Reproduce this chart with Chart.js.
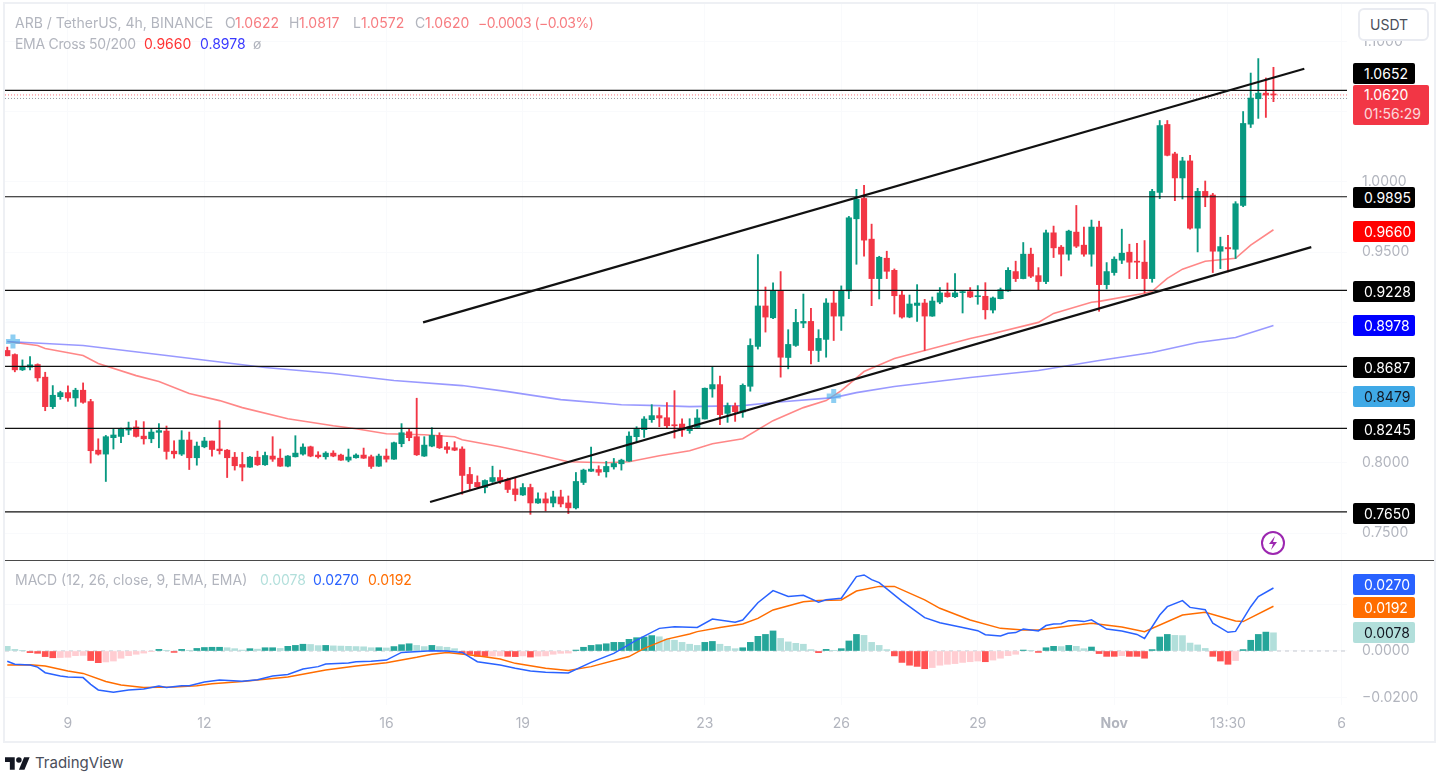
<!DOCTYPE html>
<html>
<head>
<meta charset="utf-8">
<script src="https://cdn.jsdelivr.net/npm/chart.js@4"></script>
<style>
  html, body { margin: 0; padding: 0; background: #fff; }
  body { width: 1442px; height: 777px; position: relative; overflow: hidden; font-family: Inter, sans-serif; font-size: 14px; }
  #frame { position: absolute; left: 3px; top: 2px; width: 1429px; height: 737px; border: 2px solid #eef0f4; }
  canvas { position: absolute; }
  /* the cross markers make chart.js pad the plot by 12px, so this canvas sticks out by that much */
  #priceChart { left: -7px; top: -8px; }
  #macdChart { left: 5px; top: 561px; }
  #sep { position: absolute; left: 5px; top: 560px; width: 1429px; height: 1px; background: #4a4a4a; }
  .txt { position: absolute; white-space: nowrap; line-height: 18px; }
  .tag { position: absolute; height: 21px; line-height: 21px; border-radius: 2px; padding-left: 11px; box-sizing: border-box; color: #fff; }
  #unit { position: absolute; left: 1358px; top: 8px; width: 71px; height: 33px; box-sizing: border-box; border: 2px solid #e9ebf1; border-radius: 6px; background: #fff; color: #4a4e5a; line-height: 29px; padding-left: 10px; }
  #last { position: absolute; left: 1353px; top: 85px; width: 76px; height: 40px; background: #f23645; border-radius: 2px; color: #fff; padding-left: 11px; box-sizing: border-box; line-height: 19px; }
  #last span { opacity: .8; }
</style>
</head>
<body>
<div id="frame"></div>
<canvas id="priceChart" width="1441" height="580"></canvas>
<canvas id="macdChart" width="1429" height="179"></canvas>
<div id="sep"></div>
<div id="unit">USDT</div>
<svg style="position:absolute;left:1260px;top:530px" width="26" height="26" viewBox="0 0 26 26">
  <circle cx="13" cy="13" r="11" fill="none" stroke="#9c27b0" stroke-width="2"/>
  <path d="M15 6l-6 8h4l-2 6 6-8h-4z" fill="#9c27b0"/>
</svg>
<svg style="position:absolute;left:5px;top:757px" width="25" height="13" viewBox="0 4 36 18">
  <path d="M14 22H7V11H0V4h14v18zM28 22h-8l7.5-18h8L28 22z" fill="#131722"/>
  <circle cx="20" cy="8" r="4" fill="#131722"/>
</svg>
<div class="txt" style="left:35px;top:754px;font-size:15px;color:#4a4e5a">TradingView</div>
<script>
const opens = [
  .8800,.8771,.8662,.8681,.8700,.8610,.8400,.8471,.8500,.8462,
  .8517,.8436,.8090,.8062,.8179,.8188,.8233,.8255,.8190,.8171,
  .8217,.8226,.8083,.8062,.8162,.8036,.8114,.8155,.8098,.8090,
  .8040,.7988,.7969,.8040,.7986,.8048,.8033,.7976,.8043,.8062,
  .8114,.8055,.8043,.8069,.8055,.8019,.8036,.8055,.8043,.7976,
  .8048,.8026,.8136,.8221,.8186,.8048,.8119,.8195,.8114,.8107,
  .8098,.7917,.7860,.7824,.7867,.7895,.7881,.7814,.7771,.7824,
  .7714,.7743,.7714,.7757,.7714,.7679,.7860,.7940,.7952,.7936,
  .7971,.7993,.8012,.8186,.8236,.8307,.8336,.8321,.8269,.8276,
  .8229,.8252,.8312,.8526,.8557,.8352,.8405,.8362,.8545,.8829,
  .9117,.9033,.9224,.8750,.8836,.8995,.9007,.8800,.8879,.9138,
  .9045,.9224,.9738,.9883,.9593,.9312,.9457,.9371,.9195,.9038,
  .9121,.9138,.9045,.9145,.9210,.9183,.9212,.9219,.9183,.9186,
  .9088,.9169,.9224,.9362,.9312,.9486,.9333,.9291,.9638,.9536,
  .9486,.9643,.9550,.9486,.9679,.9269,.9355,.9443,.9500,.9436,
  .9429,.9312,.9926,1.0410,1.0200,1.0029,1.0150,.9671,.9933,.9907,
  .9507,.9533,.9521,.9833,1.0412,1.0593,1.0633,1.0622
];
const highs = [
  .8824,.8776,.8733,.8757,.8705,.8645,.8550,.8510,.8548,.8531,
  .8569,.8452,.8171,.8195,.8240,.8248,.8290,.8300,.8293,.8238,
  .8279,.8262,.8157,.8229,.8219,.8148,.8181,.8155,.8300,.8095,
  .8074,.8074,.8045,.8083,.8076,.8186,.8098,.8052,.8193,.8136,
  .8119,.8079,.8079,.8086,.8062,.8098,.8064,.8105,.8055,.8062,
  .8098,.8148,.8279,.8238,.8460,.8186,.8250,.8214,.8145,.8150,
  .8114,.7967,.7907,.7879,.7976,.7948,.7891,.7891,.7852,.7848,
  .7786,.7786,.7798,.7805,.7764,.7931,.7955,.8112,.7979,.8010,
  .8031,.8026,.8221,.8257,.8329,.8414,.8393,.8429,.8514,.8314,
  .8314,.8379,.8533,.8681,.8617,.8426,.8426,.8562,.8883,.9483,
  .9252,.9281,.9362,.8948,.9093,.9202,.9100,.8948,.9169,.9221,
  .9260,.9755,.9948,.9976,.9700,.9471,.9507,.9381,.9224,.9195,
  .9269,.9164,.9181,.9248,.9281,.9348,.9221,.9248,.9262,.9283,
  .9181,.9245,.9390,.9436,.9569,.9529,.9390,.9657,.9686,.9548,
  .9657,.9833,.9679,.9729,.9721,.9426,.9467,.9664,.9557,.9564,
  .9583,.9948,1.0438,1.0438,1.0212,1.0176,1.0190,.9955,1.0007,.9919,
  .9607,.9621,.9860,1.0502,1.0776,1.0879,1.0741,1.0817
];
const lows = [
  .8762,.8648,.8657,.8662,.8581,.8371,.8386,.8452,.8438,.8402,
  .8424,.7998,.8055,.7867,.8098,.8143,.8200,.8183,.8133,.8143,
  .8107,.8026,.8033,.8052,.7952,.7983,.8107,.8048,.8062,.7895,
  .7948,.7871,.7967,.7981,.7981,.8010,.7974,.7971,.8041,.8055,
  .8043,.8033,.8026,.8043,.8017,.8007,.8033,.8031,.7960,.7974,
  .8005,.8024,.8114,.8157,.8052,.8045,.8114,.8102,.8069,.8086,
  .7776,.7805,.7824,.7786,.7860,.7852,.7788,.7729,.7767,.7633,
  .7710,.7657,.7686,.7686,.7638,.7671,.7845,.7938,.7910,.7898,
  .7955,.7948,.8010,.8150,.8181,.8288,.8257,.8248,.8176,.8188,
  .8210,.8252,.8312,.8467,.8271,.8288,.8295,.8324,.8510,.8810,
  .8931,.9026,.8610,.8669,.8829,.8962,.8705,.8721,.8752,.8871,
  .8943,.9169,.9414,.9471,.9119,.9167,.9312,.9060,.9031,.9033,
  .9007,.8800,.9043,.9133,.9179,.9176,.9067,.9176,.9129,.9024,
  .9067,.9167,.9221,.9291,.9310,.9319,.9233,.9276,.9462,.9331,
  .9443,.9533,.9471,.9400,.9079,.9238,.9336,.9419,.9312,.9312,
  .9210,.9286,.9881,1.0186,.9867,.9879,.9664,.9502,.9824,.9355,
  .9383,.9360,.9455,.9824,1.0388,1.0453,1.0460,1.0572
];
const closes = [
  .8762,.8662,.8681,.8698,.8605,.8400,.8481,.8500,.8462,.8517,
  .8431,.8086,.8062,.8186,.8198,.8243,.8248,.8188,.8171,.8219,
  .8229,.8081,.8064,.8162,.8036,.8119,.8155,.8095,.8086,.8036,
  .7979,.7969,.8040,.7986,.8052,.8026,.7976,.8048,.8069,.8112,
  .8048,.8043,.8069,.8048,.8019,.8041,.8055,.8033,.7974,.8048,
  .8026,.8143,.8214,.8179,.8057,.8126,.8195,.8107,.8095,.8090,
  .7910,.7852,.7829,.7874,.7895,.7871,.7810,.7774,.7824,.7714,
  .7743,.7714,.7757,.7707,.7679,.7867,.7948,.7955,.7933,.7974,
  .7995,.8019,.8190,.8238,.8312,.8336,.8319,.8264,.8264,.8233,
  .8257,.8319,.8531,.8557,.8343,.8407,.8364,.8552,.8836,.9117,
  .9038,.9224,.8752,.8843,.9000,.9007,.8800,.8886,.9138,.9045,
  .9224,.9745,.9876,.9586,.9312,.9464,.9364,.9190,.9038,.9131,
  .9138,.9045,.9152,.9210,.9183,.9210,.9219,.9181,.9190,.9090,
  .9174,.9233,.9371,.9312,.9486,.9329,.9291,.9638,.9531,.9486,
  .9650,.9543,.9486,.9679,.9269,.9362,.9450,.9493,.9429,.9429,
  .9312,.9933,1.0402,1.0190,1.0029,1.0150,.9671,.9933,.9893,.9507,
  .9540,.9524,.9845,1.0417,1.0598,1.0633,1.0619,1.0620
];

const ema50Idx = [0,4,5,10,12,17,20,24,28,31,37,43,46,50,55,59,60,65,70,74,79,82,86,90,93,97,101,105,108,110,113,117,121,127,130,136,138,143,144,150,151,153,155,158,162,164,167];
const ema50 = [.8864,.8836,.8814,.8764,.8707,.8621,.8579,.8493,.8443,.8393,.8314,.8264,.8243,.8207,.8200,.8186,.8164,.8114,.8057,.8007,.8000,.8007,.8050,.8086,.8136,.8171,.8300,.8393,.8443,.8514,.8650,.8743,.8800,.8886,.8921,.9000,.9064,.9143,.9150,.9207,.9221,.9314,.9379,.9436,.9457,.9550,.9660];
const ema200Idx = [0,10,21,34,43,51,60,66,73,81,86,90,97,101,109,112,117,127,136,144,151,157,162,167];
const ema200 = [.8864,.8836,.8764,.8679,.8636,.8586,.8550,.8507,.8450,.8414,.8407,.8400,.8407,.8429,.8464,.8500,.8543,.8607,.8657,.8729,.8786,.8857,.8893,.8978];
const crossIdx = [0.75, 109];
const crossVals = [.8864, .8475];

const levels = [1.0652, .9895, .9228, .8687, .8245, .7650];
const trendUpper = [[54.84, .9000], [171.07, 1.0807]];
const trendLower = [[55.76, .7721], [171.99, .9536]];
const priceTicks = [.75, .8, .85, .9, .95, 1, 1.05, 1.1];
const lastPrice = 1.0620;
const prePrice = 1.0595;

const hist = [
  .0020,.0007,.0001,-.0007,-.0010,-.0024,-.0029,-.0028,-.0027,-.0020,
  -.0019,-.0041,-.0050,-.0047,-.0043,-.0031,-.0020,-.0014,-.0009,-.0003,
  .0007,.0003,-.0006,.0007,.0003,.0011,.0015,.0016,.0016,.0014,
  .0010,.0004,.0010,.0008,.0014,.0014,.0011,.0020,.0024,.0029,
  .0028,.0023,.0024,.0022,.0021,.0020,.0019,.0018,.0014,.0014,
  .0013,.0019,.0027,.0031,.0024,.0019,.0024,.0019,.0016,.0010,
  -.0010,-.0014,-.0023,-.0023,-.0022,-.0021,-.0023,-.0024,-.0021,-.0026,
  -.0022,-.0021,-.0014,-.0010,-.0009,.0004,.0016,.0024,.0027,.0031,
  .0037,.0037,.0050,.0057,.0060,.0066,.0061,.0051,.0046,.0037,
  .0029,.0024,.0037,.0041,.0029,.0020,.0010,.0014,.0037,.0063,
  .0071,.0086,.0054,.0039,.0033,.0029,.0006,-.0007,.0007,.0003,
  .0010,.0043,.0071,.0067,.0037,.0024,.0006,-.0021,-.0049,-.0061,
  -.0066,-.0076,-.0071,-.0061,-.0057,-.0054,-.0049,-.0046,-.0043,-.0046,
  -.0039,-.0031,-.0020,-.0014,.0004,.0001,-.0006,.0014,.0020,.0019,
  .0024,.0020,.0010,.0017,-.0011,-.0023,-.0023,-.0020,-.0023,-.0023,
  -.0031,.0006,.0060,.0071,.0067,.0066,.0034,.0026,.0011,-.0023,
  -.0043,-.0057,-.0041,.0006,.0046,.0071,.0081,.0078
];
const macdIdx = [0,1,3,4,5,7,8,10,11,12,14,16,18,20,21,23,24,26,28,31,33,35,37,39,41,42,45,46,48,50,52,56,58,60,62,65,67,69,71,74,77,80,83,86,88,91,93,96,97,99,101,103,105,107,108,110,112,113,114,115,118,121,123,126,128,129,131,132,133,134,136,137,138,139,140,141,142,143,145,147,149,150,152,153,155,156,158,159,161,162,164,165,167];
const macdLine = [-.0044,-.0057,-.0060,-.0069,-.0093,-.0107,-.0111,-.0114,-.0143,-.0167,-.0177,-.0167,-.0163,-.0150,-.0156,-.0149,-.0149,-.0133,-.0124,-.0130,-.0123,-.0107,-.0101,-.0077,-.0067,-.0056,-.0051,-.0046,-.0044,-.0039,-.0006,.0001,0,-.0006,-.0046,-.0060,-.0074,-.0086,-.0091,-.0094,-.0049,-.0010,.0047,.0097,.0104,.0101,.0137,.0123,.0133,.0207,.0259,.0234,.0239,.0209,.0220,.0226,.0319,.0326,.0306,.0293,.0214,.0143,.0121,.0101,.0087,.0070,.0064,.0076,.0079,.0094,.0086,.0109,.0116,.0117,.0130,.0130,.0126,.0134,.0094,.0086,.0071,.0054,.0154,.0190,.0216,.0187,.0177,.0119,.0080,.0084,.0190,.0233,.0270];
const signalIdx = [0,3,5,8,10,13,15,18,22,25,27,31,37,42,46,50,54,56,58,62,65,67,71,74,77,82,84,87,90,91,94,97,99,101,105,107,110,112,115,117,121,123,127,131,134,136,141,143,147,150,155,158,162,163,167];
const signalLine = [-.0060,-.0059,-.0064,-.0086,-.0096,-.0131,-.0146,-.0156,-.0154,-.0149,-.0140,-.0131,-.0111,-.0081,-.0064,-.0050,-.0027,-.0014,-.0006,-.0020,-.0034,-.0053,-.0074,-.0084,-.0067,-.0024,.0011,.0051,.0073,.0083,.0101,.0116,.0140,.0176,.0211,.0216,.0219,.0257,.0277,.0277,.0219,.0183,.0133,.0097,.0090,.0090,.0111,.0119,.0103,.0083,.0154,.0166,.0129,.0126,.0192];
const macdTicks = [-.02, 0, .02];

const timeIdx = [8, 26, 50, 68, 92, 110, 128, 146, 161, 176];
const timeLabels = ['9', '12', '16', '19', '23', '26', '29', 'Nov', '13:30', '6'];

const xMin = -0.3, xMax = 176.7;
const UP = '#089981', DOWN = '#f23645';
const GRID = '#f9fafc';
const AXIS_TXT = '#b2b5be';
const FONT = 'Inter, sans-serif';

function pts(xs, ys) { return xs.map((x, i) => ({ x, y: ys[i] })); }
function seg(pair) { return pair.map(p => ({ x: p[0], y: p[1] })); }
function flatLine(v) { return [{ x: xMin, y: v }, { x: xMax, y: v }]; }
function candleColors() { return opens.map((o, i) => closes[i] >= o ? UP : DOWN); }
function histColors() {
  return hist.map((v, i) => {
    const prev = i > 0 ? hist[i - 1] : null;
    if (v >= 0) return prev !== null && v >= prev ? '#26a69a' : '#b2dfdb';
    return prev !== null && v <= prev ? '#ff5252' : '#ffcdd2';
  });
}

function fitY(width) {
  return axis => {
    axis.width = width;
    axis.paddingTop = 0; axis.paddingBottom = 0;
  };
}
function fitX(height) {
  return axis => {
    axis.height = height;
    axis.paddingLeft = 0; axis.paddingRight = 0;
  };
}
function timeTicks(axis) { axis.ticks = timeIdx.map(v => ({ value: v })); }

const lineBase = { type: 'line', pointRadius: 0, tension: 0, fill: false };

const priceDatasets = [
  Object.assign({}, lineBase, { data: flatLine(prePrice), borderColor: '#9598a1', borderWidth: 1, borderDash: [1, 2], order: 9 }),
  Object.assign({}, lineBase, { data: flatLine(lastPrice), borderColor: 'rgba(242,54,69,.7)', borderWidth: 1, borderDash: [1, 2], order: 9 }),
  Object.assign({}, lineBase, { data: pts(ema200Idx, ema200), borderColor: 'rgba(70,70,255,.55)', borderWidth: 1.6, order: 8 }),
  Object.assign({}, lineBase, { data: pts(ema50Idx, ema50), borderColor: 'rgba(255,70,70,.65)', borderWidth: 1.6, order: 8 }),
  { type: 'bar', data: opens.map((o, i) => ({ x: i, y: [lows[i], highs[i]] })), backgroundColor: candleColors(), barThickness: 1.2, order: 6 },
  { type: 'bar', data: opens.map((o, i) => ({ x: i, y: [o, closes[i]] })), backgroundColor: candleColors(), barThickness: 5.5, minBarLength: 1, order: 5 },
  Object.assign({}, lineBase, { data: pts(crossIdx, crossVals), showLine: false, pointStyle: 'cross', pointRadius: 7, pointBorderWidth: 5, pointBorderColor: 'rgba(80,180,235,.65)', order: 4 })
];
levels.forEach(v => {
  priceDatasets.push(Object.assign({}, lineBase, { data: flatLine(v), borderColor: '#111', borderWidth: 1.2, order: 2 }));
});
[trendUpper, trendLower].forEach(t => {
  priceDatasets.push(Object.assign({}, lineBase, { data: seg(t), borderColor: '#111', borderWidth: 2.2, order: 1 }));
});

const priceChart = new Chart(document.getElementById('priceChart'), {
  data: { datasets: priceDatasets },
  options: {
    responsive: false,
    animation: false,
    layout: { padding: 0 },
    datasets: { bar: { grouped: false } },
    plugins: { legend: { display: false }, tooltip: { enabled: false } },
    scales: {
      x: {
        type: 'linear', min: xMin, max: xMax, offset: false,
        afterBuildTicks: timeTicks,
        afterFit: fitX(0),
        ticks: { display: false },
        grid: { color: GRID, drawTicks: false, offset: false },
        border: { display: false }
      },
      y: {
        position: 'right', min: 0.73077, max: 1.12678,
        afterBuildTicks: axis => { axis.ticks = priceTicks.map(v => ({ value: v })); },
        afterFit: fitY(87),
        ticks: { color: AXIS_TXT, padding: 15, font: { family: FONT, size: 14 }, callback: v => v.toFixed(4) },
        grid: { color: GRID, drawTicks: false },
        border: { display: false }
      }
    }
  }
});

const macdChart = new Chart(document.getElementById('macdChart'), {
  data: {
    datasets: [
      Object.assign({}, lineBase, { data: flatLine(0), borderColor: '#c4c7cf', borderWidth: 1, borderDash: [4, 4], order: 9 }),
      { type: 'bar', data: hist.map((v, i) => ({ x: i, y: v })), backgroundColor: histColors(), barThickness: 6, order: 5 },
      Object.assign({}, lineBase, { data: pts(signalIdx, signalLine), borderColor: '#ff6d00', borderWidth: 1.5, order: 2 }),
      Object.assign({}, lineBase, { data: pts(macdIdx, macdLine), borderColor: '#2962ff', borderWidth: 1.5, order: 1 })
    ]
  },
  options: {
    responsive: false,
    animation: false,
    layout: { padding: 0 },
    plugins: { legend: { display: false }, tooltip: { enabled: false } },
    scales: {
      x: {
        type: 'linear', min: xMin, max: xMax, offset: false,
        afterBuildTicks: timeTicks,
        afterFit: fitX(35),
        ticks: {
          color: AXIS_TXT, padding: 10, autoSkip: false, maxRotation: 0,
          font: ctx => ({ family: FONT, size: 14, weight: ctx.tick && timeLabels[timeIdx.indexOf(ctx.tick.value)] === 'Nov' ? 'bold' : 'normal' }),
          callback: v => timeLabels[timeIdx.indexOf(v)]
        },
        grid: { color: GRID, drawTicks: false, offset: false },
        border: { display: false }
      },
      y: {
        position: 'right', min: -.02315, max: .03858,
        afterBuildTicks: axis => { axis.ticks = macdTicks.map(v => ({ value: v })); },
        afterFit: fitY(87),
        ticks: { color: AXIS_TXT, padding: 15, font: { family: FONT, size: 14 }, callback: v => v.toFixed(4).replace('-', '\u2212') },
        grid: { color: GRID, drawTicks: false },
        border: { display: false }
      }
    }
  }
});

function addText(text, left, top, color, spacing) {
  const el = document.createElement('div');
  el.className = 'txt';
  el.textContent = text;
  el.style.left = left + 'px';
  el.style.top = top + 'px';
  el.style.color = color;
  if (spacing) el.style.letterSpacing = spacing;
  document.body.appendChild(el);
}
function addTag(text, cy, bg, fg) {
  const el = document.createElement('div');
  el.className = 'tag';
  el.textContent = text;
  el.style.left = '1353px';
  el.style.width = '62px';
  el.style.top = (cy - 10.5) + 'px';
  el.style.background = bg;
  if (fg) el.style.color = fg;
  document.body.appendChild(el);
}

const GRAY = '#b2b5be', PINK = '#f77c80';
addText('ARB / TetherUS, 4h, BINANCE', 15, 14, GRAY);
addText('O', 225, 14, GRAY); addText('1.0622', 235, 14, PINK);
addText('H', 289, 14, GRAY); addText('1.0817', 299, 14, PINK);
addText('L', 353, 14, GRAY); addText('1.0572', 361, 14, PINK);
addText('C', 415, 14, GRAY); addText('1.0620', 425, 14, PINK);
addText('\u22120.0003 (\u22120.03%)', 478, 14, PINK, '-0.5px');
addText('EMA Cross 50/200', 15, 35, GRAY, '-0.3px');
addText('0.9660', 144, 35, '#ff3333');
addText('0.8978', 200, 35, '#3a3aff');
addText('\u00f8', 253, 35, GRAY);
addText('MACD (12, 26, close, 9, EMA, EMA)', 15, 571, GRAY);
addText('0.0078', 260, 571, '#b2dfdb');
addText('0.0270', 313, 571, '#2962ff');
addText('0.0192', 368, 571, '#ff6d00');

addTag('1.0652', 73.5, '#000');
const last = document.createElement('div');
last.id = 'last';
last.innerHTML = '1.0620<br><span>01:56:29</span>';
document.body.appendChild(last);
addTag('0.9895', 197.5, '#000');
addTag('0.9660', 231, '#ff0000');
addTag('0.9228', 291.5, '#000');
addTag('0.8978', 325, '#0000ff');
addTag('0.8687', 367, '#000');
addTag('0.8479', 396, '#3fa9e6', '#131722');
addTag('0.8245', 429, '#000');
addTag('0.7650', 513, '#000');
addTag('0.0270', 584, '#2962ff');
addTag('0.0192', 607, '#ff6d00');
addTag('0.0078', 632.5, '#b2dfdb', '#131722');
</script>
</body>
</html>
